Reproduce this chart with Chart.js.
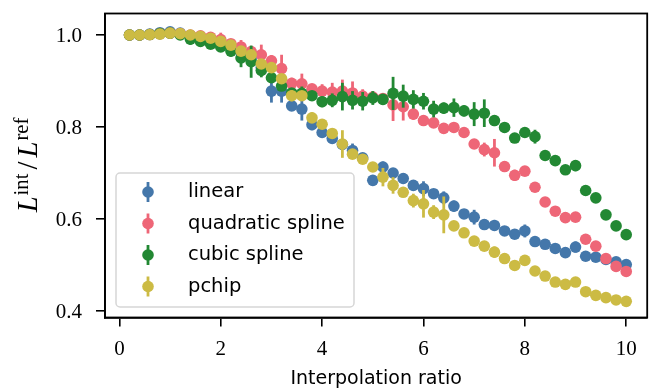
<!DOCTYPE html>
<html>
<head>
<meta charset="utf-8">
<script src="https://cdn.jsdelivr.net/npm/chart.js@4.4.1/dist/chart.umd.min.js"></script>
<style>
  html, body { margin: 0; padding: 0; background: #fff; }
</style>
</head>
<body>
<canvas id="grafico" width="653" height="390"></canvas>
<script>
// interpolation ratios (x)
var ratios = [0.2, 0.4, 0.6, 0.8, 1.0, 1.2, 1.4, 1.6, 1.8, 2.0,
              2.2, 2.4, 2.6, 2.8, 3.0, 3.2, 3.4, 3.6, 3.8, 4.0,
              4.2, 4.4, 4.6, 4.8, 5.0, 5.2, 5.4, 5.6, 5.8, 6.0,
              6.2, 6.4, 6.6, 6.8, 7.0, 7.2, 7.4, 7.6, 7.8, 8.0,
              8.2, 8.4, 8.6, 8.8, 9.0, 9.2, 9.4, 9.6, 9.8, 10.0];

var linear = [1.000, 1.000, 1.002, 1.005, 1.007, 1.004, 0.999, 0.994, 0.987, 0.981,
              0.974, 0.962, 0.950, 0.930, 0.878, 0.878, 0.846, 0.839, 0.805, 0.788,
              0.775, 0.762, 0.749, 0.733, 0.684, 0.713, 0.700, 0.688, 0.673, 0.666,
              0.655, 0.646, 0.628, 0.611, 0.604, 0.588, 0.586, 0.574, 0.567, 0.574,
              0.551, 0.545, 0.536, 0.527, 0.539, 0.519, 0.517, 0.512, 0.507, 0.501];
var linearErr = [0.004, 0.004, 0.004, 0.006, 0.006, 0.004, 0.004, 0.004, 0.004, 0.004,
                 0.004, 0.004, 0.004, 0.012, 0.025, 0.025, 0.010, 0.025, 0.012, 0.010,
                 0.004, 0.012, 0.015, 0.004, 0.004, 0.012, 0.004, 0.012, 0.004, 0.016,
                 0.004, 0.014, 0.012, 0.004, 0.016, 0.004, 0.012, 0.004, 0.004, 0.014,
                 0.004, 0.004, 0.004, 0.004, 0.012, 0.004, 0.004, 0.010, 0.004, 0.004];

var quadratic = [1.000, 1.000, 1.001, 1.003, 1.004, 1.003, 1.000, 0.998, 0.995, 0.990,
                 0.981, 0.974, 0.964, 0.957, 0.944, 0.927, 0.895, 0.894, 0.883, 0.878,
                 0.876, 0.878, 0.874, 0.867, 0.865, 0.862, 0.848, 0.844, 0.828, 0.814,
                 0.809, 0.797, 0.799, 0.788, 0.763, 0.751, 0.744, 0.714, 0.695, 0.704,
                 0.669, 0.637, 0.617, 0.603, 0.604, 0.556, 0.541, 0.514, 0.497, 0.486];
var quadraticErr = [0.004, 0.004, 0.004, 0.004, 0.004, 0.004, 0.004, 0.004, 0.008, 0.015,
                    0.004, 0.015, 0.010, 0.022, 0.012, 0.030, 0.012, 0.022, 0.008, 0.015,
                    0.020, 0.025, 0.025, 0.015, 0.012, 0.010, 0.035, 0.030, 0.012, 0.004,
                    0.010, 0.004, 0.004, 0.008, 0.004, 0.015, 0.030, 0.004, 0.012, 0.006,
                    0.004, 0.004, 0.008, 0.004, 0.004, 0.004, 0.010, 0.004, 0.004, 0.004];

var cubic = [1.000, 1.000, 1.001, 1.003, 1.004, 1.000, 0.991, 0.986, 0.980, 0.974,
             0.965, 0.950, 0.942, 0.923, 0.907, 0.889, 0.874, 0.873, 0.868, 0.855,
             0.858, 0.866, 0.858, 0.856, 0.863, 0.860, 0.873, 0.867, 0.860, 0.856,
             0.839, 0.841, 0.842, 0.835, 0.828, 0.830, 0.814, 0.799, 0.776, 0.788,
             0.779, 0.738, 0.727, 0.707, 0.716, 0.662, 0.646, 0.609, 0.585, 0.566];
var cubicErr = [0.004, 0.004, 0.004, 0.004, 0.004, 0.004, 0.012, 0.012, 0.008, 0.004,
                0.012, 0.020, 0.035, 0.015, 0.004, 0.010, 0.010, 0.015, 0.010, 0.012,
                0.015, 0.030, 0.020, 0.020, 0.015, 0.012, 0.036, 0.025, 0.020, 0.018,
                0.018, 0.012, 0.020, 0.012, 0.026, 0.030, 0.012, 0.004, 0.010, 0.004,
                0.015, 0.004, 0.004, 0.008, 0.012, 0.008, 0.004, 0.004, 0.004, 0.004];

var pchip = [1.000, 1.000, 1.001, 1.002, 1.004, 1.003, 1.000, 0.997, 0.993, 0.986,
             0.978, 0.965, 0.957, 0.937, 0.929, 0.905, 0.868, 0.868, 0.820, 0.806,
             0.786, 0.763, 0.741, 0.730, 0.713, 0.691, 0.673, 0.658, 0.640, 0.633,
             0.615, 0.609, 0.585, 0.570, 0.552, 0.541, 0.528, 0.514, 0.499, 0.510,
             0.487, 0.476, 0.463, 0.458, 0.463, 0.442, 0.434, 0.429, 0.424, 0.421];
var pchipErr = [0.004, 0.004, 0.004, 0.004, 0.004, 0.004, 0.004, 0.004, 0.004, 0.004,
                0.004, 0.004, 0.004, 0.008, 0.004, 0.004, 0.012, 0.006, 0.012, 0.004,
                0.004, 0.030, 0.004, 0.010, 0.004, 0.020, 0.018, 0.004, 0.015, 0.030,
                0.015, 0.040, 0.004, 0.004, 0.004, 0.004, 0.012, 0.004, 0.004, 0.004,
                0.004, 0.004, 0.004, 0.004, 0.004, 0.004, 0.004, 0.004, 0.004, 0.004];

var nombres = ["linear", "quadratic spline", "cubic spline", "pchip"];
var colores = ["#4477AA", "#EE6677", "#228833", "#CCBB44"];
var xTicks = [0, 2, 4, 6, 8, 10];
var yTicks = [0.4, 0.6, 0.8, 1.0];

var series = [linear, quadratic, cubic, pchip];
var errores = [linearErr, quadraticErr, cubicErr, pchipErr];

function puntos(arr) {
	return ratios.map(function (r, i) { return {x: r, y: arr[i]}; });
}

// error bars, drawn just before each dataset's markers (like matplotlib)
var errorBars = {
	id: 'errorBars',
	beforeDatasetDraw: function (chart, args) {
		var ctx = chart.ctx;
		var xs = chart.scales.x, ys = chart.scales.y;
		var i = args.index;
		var vals = series[i], errs = errores[i];
		ctx.save();
		ctx.strokeStyle = colores[i];
		ctx.lineWidth = 2.8;
		for (var k = 0; k < vals.length; k++) {
			var px = xs.getPixelForValue(ratios[k]);
			ctx.beginPath();
			ctx.moveTo(px, ys.getPixelForValue(vals[k] - errs[k]));
			ctx.lineTo(px, ys.getPixelForValue(vals[k] + errs[k]));
			ctx.stroke();
		}
		ctx.restore();
	}
};

// box, tick labels, legend and the math y label
var extras = {
	id: 'extras',
	afterDraw: function (chart) {
		var ctx = chart.ctx;
		var a = chart.chartArea;
		var xs = chart.scales.x, ys = chart.scales.y;
		ctx.save();
		ctx.strokeStyle = '#000';
		ctx.lineWidth = 1.8;
		ctx.strokeRect(a.left, a.top, a.right - a.left, a.bottom - a.top);

		// tick labels
		ctx.fillStyle = '#000';
		ctx.font = '21px "Liberation Serif"';
		ctx.textBaseline = 'alphabetic';
		ctx.textAlign = 'center';
		xTicks.forEach(function (v) {
			ctx.fillText(String(v), xs.getPixelForValue(v), 354.5);
		});
		ctx.textAlign = 'right';
		yTicks.forEach(function (v) {
			ctx.fillText(v.toFixed(1), 82, ys.getPixelForValue(v) + 7);
		});

		// legend
		var lx = 116, ly = 173, lw = 238, lh = 134, r = 4;
		ctx.beginPath();
		ctx.moveTo(lx + r, ly);
		ctx.arcTo(lx + lw, ly, lx + lw, ly + lh, r);
		ctx.arcTo(lx + lw, ly + lh, lx, ly + lh, r);
		ctx.arcTo(lx, ly + lh, lx, ly, r);
		ctx.arcTo(lx, ly, lx + lw, ly, r);
		ctx.closePath();
		ctx.fillStyle = 'rgba(255,255,255,0.8)';
		ctx.fill();
		ctx.strokeStyle = 'rgba(204,204,204,0.8)';
		ctx.lineWidth = 1.5;
		ctx.stroke();
		ctx.font = '19.5px "DejaVu Sans"';
		ctx.textAlign = 'left';
		ctx.textBaseline = 'middle';
		for (var i = 0; i < nombres.length; i++) {
			var cy = 192 + i * 31.5;
			ctx.strokeStyle = colores[i];
			ctx.lineWidth = 2.8;
			ctx.beginPath();
			ctx.moveTo(148, cy - 10);
			ctx.lineTo(148, cy + 10);
			ctx.stroke();
			ctx.fillStyle = colores[i];
			ctx.beginPath();
			ctx.arc(148, cy, 5.8, 0, Math.PI * 2);
			ctx.fill();
			ctx.fillStyle = '#000';
			ctx.fillText(nombres[i], 188, cy);
		}

		// y label  L^int / L^ref, sized to the reference length
		var partes = [
			{t: 'L', s: 25, it: true, dy: 0, gap: 1},
			{t: 'int', s: 18, it: false, dy: -9, gap: 4},
			{t: '/', s: 25, it: false, dy: 0, gap: 4},
			{t: 'L', s: 25, it: true, dy: 0, gap: 1},
			{t: 'ref', s: 18, it: false, dy: -9, gap: 0}
		];
		function fuente(p, k) {
			return (p.it ? 'italic ' : '') + (p.s * k).toFixed(1) + 'px "Liberation Serif"';
		}
		var total = 0;
		partes.forEach(function (p) { ctx.font = fuente(p, 1); total += ctx.measureText(p.t).width + p.gap; });
		var k = Math.min(1.15, 104 / total);
		total = 0;
		partes.forEach(function (p) { ctx.font = fuente(p, k); p.w = ctx.measureText(p.t).width; total += p.w + p.gap; });
		ctx.translate(37, 165);
		ctx.rotate(-Math.PI / 2);
		ctx.textBaseline = 'alphabetic';
		ctx.textAlign = 'left';
		ctx.fillStyle = '#000';
		var pos = -total / 2;
		partes.forEach(function (p) {
			ctx.font = fuente(p, k);
			ctx.fillText(p.t, pos, p.dy);
			pos += p.w + p.gap;
		});
		ctx.restore();
	}
};

var datasets = series.map(function (arr, i) {
	return {
		label: nombres[i],
		data: puntos(arr),
		backgroundColor: colores[i],
		borderColor: colores[i],
		pointRadius: 5.8,
		pointBorderWidth: 0,
		showLine: false,
		order: 4 - i
	};
});

const ctx = document.getElementById("grafico").getContext('2d');
window.grafica = new Chart(ctx, {
	type: 'scatter',
	data: {datasets: datasets},
	options: {
		responsive: false,
		devicePixelRatio: 1,
		animation: false,
		events: [],
		layout: {padding: {top: 13.5, right: 5, left: 0, bottom: 0}},
		plugins: {legend: {display: false}, tooltip: {enabled: false}},
		scales: {
			x: {
				type: 'linear',
				min: -0.284,
				max: 10.414,
				afterBuildTicks: function (s) { s.ticks = xTicks.map(function (v) { return {value: v}; }); },
				afterFit: function (s) { s.height = 72.5; },
				ticks: {display: false},
				grid: {drawOnChartArea: false, color: '#000', lineWidth: 1.6, tickLength: 9},
				border: {color: '#000', width: 1.8},
				title: {
					display: true,
					text: 'Interpolation ratio',
					color: '#000',
					font: {family: 'DejaVu Sans', size: 19},
					padding: {top: 0, bottom: 0}
				}
			},
			y: {
				type: 'linear',
				min: 0.3859,
				max: 1.0467,
				afterBuildTicks: function (s) { s.ticks = yTicks.map(function (v) { return {value: v}; }); },
				afterFit: function (s) { s.width = 105; },
				ticks: {display: false},
				grid: {drawOnChartArea: false, color: '#000', lineWidth: 1.6, tickLength: 9},
				border: {color: '#000', width: 1.8}
			}
		}
	},
	plugins: [errorBars, extras]
});
</script>
</body>
</html>
